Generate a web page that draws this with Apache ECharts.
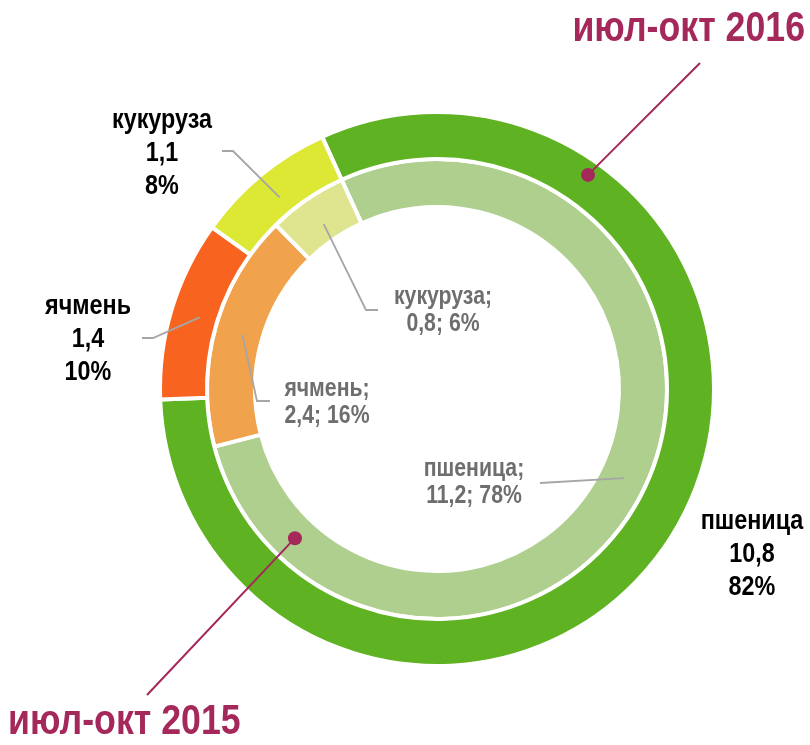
<!DOCTYPE html>
<html>
<head>
<meta charset="utf-8">
<script src="https://cdn.jsdelivr.net/npm/echarts@6/dist/echarts.min.js"></script>
<style>
  html, body { margin: 0; padding: 0; background: #ffffff; }
  #chart { width: 810px; height: 745px; }
</style>
</head>
<body>
<div id="chart"></div>
<script>
// data
const crops = ['пшеница', 'ячмень', 'кукуруза']
const values2016 = [10.8, 1.4, 1.1]
const percents2016 = [82, 10, 8]
const values2015 = [11.2, 2.4, 0.8]
const percents2015 = [78, 16, 6]
const periods = ['июл-окт 2016', 'июл-окт 2015']

const colors2016 = ['#5fb323', '#f86420', '#dde835']
const colors2015 = ['#afcf8f', '#f0a24c', '#dfe48f']

const FONT = "'Liberation Sans', Arial, sans-serif"
const NARROW = 0.85 // Arial Narrow look
const CX = 437
const CY = 389
const START = 335.5 // clockwise from 12 o'clock
const MAROON = '#a4285a'
const GUIDE = '#a6a6a6'

function fmt(v) {
  return String(v).replace('.', ',')
}

// point on circle, angle clockwise from top
function polar(deg, r) {
  const a = deg * Math.PI / 180
  return [CX + r * Math.sin(a), CY - r * Math.cos(a)]
}

function midAngle(values, i) {
  const total = values.reduce((s, v) => s + v, 0)
  let acc = 0
  for (let k = 0; k < i; k++) acc += values[k]
  return START + (acc + values[i] / 2) / total * 360
}

// label placement
const outerLayout = [
  { x: 752, y: 554 },
  { x: 88, y: 339, elbow: [153, 338], end: [142, 338] },
  { x: 162, y: 153, elbow: [233, 151], end: [222, 151] }
]
const innerLayout = [
  { x: 474, y: 483, elbow: [540, 483], end: [540, 483], r: 207 },
  { x: 327, y: 403, elbow: [257, 401], end: [270, 401], r: 202 },
  { x: 443, y: 311, elbow: [366, 310], end: [378, 310], r: 200 }
]

function labelText(x, y, text, size, lineHeight, color) {
  return {
    type: 'text', x: x, y: y, scaleX: NARROW, z: 10, silent: true,
    style: {
      text: text, x: 0, y: 0, align: 'center', verticalAlign: 'middle',
      fill: color, font: 'bold ' + size + 'px ' + FONT, lineHeight: lineHeight
    }
  }
}

function guide(values, i, l, r) {
  if (!l.elbow) return null
  return {
    type: 'polyline', z: 10, silent: true,
    shape: { points: [polar(midAngle(values, i), l.r || r), l.elbow, l.end] },
    style: { stroke: GUIDE, lineWidth: 1.8, fill: null }
  }
}

const graphics = []
crops.forEach((c, i) => {
  const lo = outerLayout[i]
  graphics.push(labelText(lo.x, lo.y, [c, fmt(values2016[i]), percents2016[i] + '%'].join('\n'), 27.5, 33, '#000000'))
  const go = guide(values2016, i, lo, 248)
  if (go) graphics.push(go)

  const li = innerLayout[i]
  graphics.push(labelText(li.x, li.y, c + ';\n' + fmt(values2015[i]) + '; ' + percents2015[i] + '%', 25, 27, '#6e6e6e'))
  const gi = guide(values2015, i, li, 205)
  if (gi) graphics.push(gi)
})

// period markers
const dot16 = polar(35.2, 262)
const dot15 = polar(223.6, 206)
graphics.push(
  { type: 'line', z: 10, shape: { x1: dot16[0], y1: dot16[1], x2: 700, y2: 63 }, style: { stroke: MAROON, lineWidth: 2 } },
  { type: 'circle', z: 11, shape: { cx: dot16[0], cy: dot16[1], r: 7 }, style: { fill: MAROON } },
  { type: 'line', z: 10, shape: { x1: dot15[0], y1: dot15[1], x2: 147, y2: 695 }, style: { stroke: MAROON, lineWidth: 2 } },
  { type: 'circle', z: 11, shape: { cx: dot15[0], cy: dot15[1], r: 7 }, style: { fill: MAROON } },
  {
    type: 'text', x: 805, y: 29, scaleX: NARROW, z: 10,
    style: { text: periods[0], x: 0, y: 0, align: 'right', verticalAlign: 'middle', fill: MAROON, font: 'bold 42px ' + FONT }
  },
  {
    type: 'text', x: 8, y: 722, scaleX: NARROW, z: 10,
    style: { text: periods[1], x: 0, y: 0, align: 'left', verticalAlign: 'middle', fill: MAROON, font: 'bold 42px ' + FONT }
  }
)

const chart = echarts.init(document.getElementById('chart'))

function ring(name, radius, values, colors) {
  return {
    type: 'pie',
    name: name,
    center: [CX, CY],
    radius: radius,
    startAngle: 90 - START + 360,
    clockwise: true,
    silent: true,
    itemStyle: { borderColor: '#ffffff', borderWidth: 4 },
    label: { show: false },
    labelLine: { show: false },
    data: crops.map((c, i) => ({ name: c, value: values[i], itemStyle: { color: colors[i] } }))
  }
}

chart.setOption({
  backgroundColor: '#ffffff',
  animation: false,
  series: [
    ring(periods[1], [182, 230], values2015, colors2015),
    ring(periods[0], [230, 277], values2016, colors2016)
  ],
  graphic: graphics
})
</script>
</body>
</html>
